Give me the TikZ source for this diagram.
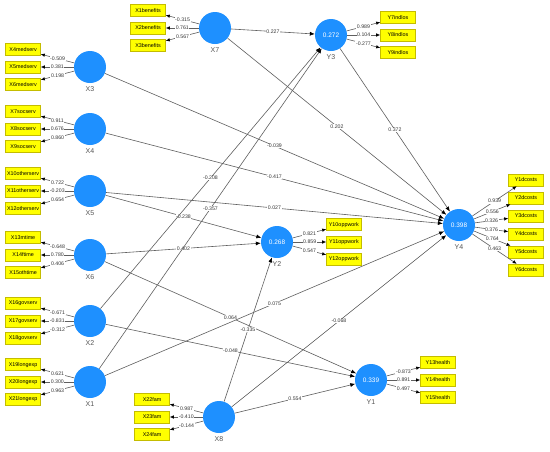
\documentclass[tikz,border=0pt]{standalone}
\usepackage{fontspec}
\setmainfont{Liberation Sans}
\usepackage{xcolor}
\usepackage{tikz}
\usetikzlibrary{arrows.meta,positioning}

\definecolor{plsblue}{RGB}{30,144,255}
\definecolor{plsyellow}{RGB}{255,255,0}
\definecolor{boxline}{RGB}{196,188,0}
\definecolor{linegray}{RGB}{95,95,95}
\definecolor{coefgray}{RGB}{55,55,55}
\definecolor{namegray}{RGB}{85,85,85}

\begin{document}
\begin{tikzpicture}[
    x=1pt, y=-1pt,
    latent/.style={circle, fill=plsblue, minimum size=32pt, inner sep=0pt, text=white,
      font=\fontsize{6.5}{7}\selectfont, label distance=7pt},
    lname/.style={text=namegray, font=\fontsize{7}{8}\selectfont},
    ind/.style={draw=boxline, line width=0.4pt, fill=plsyellow, minimum width=35pt, minimum height=12pt,
      inner sep=0pt, font=\fontsize{5.4}{6}\selectfont},
    load/.style={draw=linegray, line width=0.6pt, -{Latex[length=4pt,width=3.5pt,color=black]}},
    struct/.style={draw=linegray, line width=0.6pt, -{Latex[length=5pt,width=4pt,color=black]}},
    coef/.style={fill=white, inner sep=0.6pt, text=coefgray, font=\fontsize{5.2}{6}\selectfont}
]
\useasboundingbox[fill=white] (0,0) rectangle (550,451);

% latent variables
\node[latent, label={[lname]below:X7}] (X7) at (215,28) {};
\node[latent, label={[lname]below:X3}] (X3) at (90,67) {};
\node[latent, label={[lname]below:X4}] (X4) at (90,129) {};
\node[latent, label={[lname]below:X5}] (X5) at (90,191) {};
\node[latent, label={[lname]below:X6}] (X6) at (90,255) {};
\node[latent, label={[lname]below:X2}] (X2) at (90,321) {};
\node[latent, label={[lname]below:X1}] (X1) at (90,382) {};
\node[latent, label={[lname]below:X8}] (X8) at (219,417) {};
\node[latent, label={[lname]below:Y3}] (Y3) at (331,35) {0.272};
\node[latent, label={[lname]below:Y2}] (Y2) at (277,242) {0.268};
\node[latent, label={[lname]below:Y4}] (Y4) at (459,225) {0.398};
\node[latent, label={[lname]below:Y1}] (Y1) at (371,380) {0.339};

% indicators
\node[ind, left=33pt of X7] (x2ben) {X2benefits};
\node[ind, above=5pt of x2ben] (x1ben) {X1benefits};
\node[ind, below=5pt of x2ben] (x3ben) {X3benefits};

\node[ind, left=33pt of X3] (x5med) {X5medserv};
\node[ind, above=5pt of x5med] (x4med) {X4medserv};
\node[ind, below=5pt of x5med] (x6med) {X6medserv};

\node[ind, left=33pt of X4] (x8soc) {X8socserv};
\node[ind, above=5pt of x8soc] (x7soc) {X7socserv};
\node[ind, below=5pt of x8soc] (x9soc) {X9socserv};

\node[ind, left=33pt of X5] (x11oth) {X11otherserv};
\node[ind, above=5pt of x11oth] (x10oth) {X10otherserv};
\node[ind, below=5pt of x11oth] (x12oth) {X12otherserv};

\node[ind, left=33pt of X6] (x14time) {X14ftime};
\node[ind, above=5pt of x14time] (x13time) {X13mtime};
\node[ind, below=5pt of x14time] (x15time) {X15othtime};

\node[ind, left=33pt of X2] (x17gov) {X17govserv};
\node[ind, above=5pt of x17gov] (x16gov) {X16govserv};
\node[ind, below=5pt of x17gov] (x18gov) {X18govserv};

\node[ind, left=33pt of X1] (x20exp) {X20longexp};
\node[ind, above=5pt of x20exp] (x19exp) {X19longexp};
\node[ind, below=5pt of x20exp] (x21exp) {X21longexp};

\node[ind, left=33pt of X8] (x23fam) {X23fam};
\node[ind, above=5pt of x23fam] (x22fam) {X22fam};
\node[ind, below=5pt of x23fam] (x24fam) {X24fam};

\node[ind, right=33pt of Y3] (y8ind) {Y8indlos};
\node[ind, above=5pt of y8ind] (y7ind) {Y7indlos};
\node[ind, below=5pt of y8ind] (y9ind) {Y9indlos};

\node[ind, right=33pt of Y2] (y11opp) {Y11oppwork};
\node[ind, above=5pt of y11opp] (y10opp) {Y10oppwork};
\node[ind, below=5pt of y11opp] (y12opp) {Y12oppwork};

\node[ind, right=33pt of Y1] (y14hea) {Y14health};
\node[ind, above=5pt of y14hea] (y13hea) {Y13health};
\node[ind, below=5pt of y14hea] (y15hea) {Y15health};

\node[ind, right=33pt of Y4, yshift=9pt] (y3dc) {Y3dcosts};
\node[ind, above=5.6pt of y3dc] (y2dc) {Y2dcosts};
\node[ind, above=5.6pt of y2dc] (y1dc) {Y1dcosts};
\node[ind, below=5.6pt of y3dc] (y4dc) {Y4dcosts};
\node[ind, below=5.6pt of y4dc] (y5dc) {Y5dcosts};
\node[ind, below=5.6pt of y5dc] (y6dc) {Y6dcosts};

% outer loadings
\draw[load] (X7) -- node[coef]{-0.315} (x1ben);
\draw[load] (X7) -- node[coef]{0.761} (x2ben);
\draw[load] (X7) -- node[coef]{0.567} (x3ben);
\draw[load] (X3) -- node[coef]{-0.509} (x4med);
\draw[load] (X3) -- node[coef]{0.381} (x5med);
\draw[load] (X3) -- node[coef]{0.198} (x6med);
\draw[load] (X4) -- node[coef]{0.911} (x7soc);
\draw[load] (X4) -- node[coef]{0.676} (x8soc);
\draw[load] (X4) -- node[coef]{0.860} (x9soc);
\draw[load] (X5) -- node[coef]{0.722} (x10oth);
\draw[load] (X5) -- node[coef]{-0.203} (x11oth);
\draw[load] (X5) -- node[coef]{0.654} (x12oth);
\draw[load] (X6) -- node[coef]{-0.648} (x13time);
\draw[load] (X6) -- node[coef]{0.780} (x14time);
\draw[load] (X6) -- node[coef]{0.406} (x15time);
\draw[load] (X2) -- node[coef]{-0.671} (x16gov);
\draw[load] (X2) -- node[coef]{-0.831} (x17gov);
\draw[load] (X2) -- node[coef]{-0.312} (x18gov);
\draw[load] (X1) -- node[coef]{0.621} (x19exp);
\draw[load] (X1) -- node[coef]{0.300} (x20exp);
\draw[load] (X1) -- node[coef]{0.963} (x21exp);
\draw[load] (X8) -- node[coef]{0.987} (x22fam);
\draw[load] (X8) -- node[coef]{-0.410} (x23fam);
\draw[load] (X8) -- node[coef]{-0.144} (x24fam);
\draw[load] (Y3) -- node[coef]{0.989} (y7ind);
\draw[load] (Y3) -- node[coef]{0.104} (y8ind);
\draw[load] (Y3) -- node[coef]{-0.277} (y9ind);
\draw[load] (Y2) -- node[coef]{0.821} (y10opp);
\draw[load] (Y2) -- node[coef]{0.859} (y11opp);
\draw[load] (Y2) -- node[coef]{0.547} (y12opp);
\draw[load] (Y1) -- node[coef]{-0.873} (y13hea);
\draw[load] (Y1) -- node[coef]{0.891} (y14hea);
\draw[load] (Y1) -- node[coef]{0.497} (y15hea);
\draw[load] (Y4) -- node[coef]{0.939} (y1dc);
\draw[load] (Y4) -- node[coef]{0.556} (y2dc);
\draw[load] (Y4) -- node[coef]{0.326} (y3dc);
\draw[load] (Y4) -- node[coef]{0.376} (y4dc);
\draw[load] (Y4) -- node[coef]{0.764} (y5dc);
\draw[load] (Y4) -- node[coef]{0.463} (y6dc);

% inner model
\draw[struct] (X7) -- node[coef]{0.227} (Y3);
\draw[struct] (X7) -- node[coef]{0.202} (Y4);
\draw[struct] (Y3) -- node[coef]{0.372} (Y4);
\draw[struct] (X3) -- node[coef]{-0.039} (Y4);
\draw[struct] (X4) -- node[coef]{-0.417} (Y4);
\draw[struct] (X5) -- node[coef]{0.027} (Y4);
\draw[struct] (X5) -- node[coef]{-0.238} (Y2);
\draw[struct] (X6) -- node[coef]{0.402} (Y2);
\draw[struct] (X6) -- node[coef]{0.064} (Y1);
\draw[struct] (X2) -- node[coef]{-0.208} (Y3);
\draw[struct] (X2) -- node[coef]{-0.048} (Y1);
\draw[struct] (X1) -- node[coef]{-0.357} (Y3);
\draw[struct] (X1) -- node[coef]{0.075} (Y4);
\draw[struct] (X8) -- node[coef]{-0.335} (Y2);
\draw[struct] (X8) -- node[coef]{-0.068} (Y4);
\draw[struct] (X8) -- node[coef]{0.554} (Y1);
\end{tikzpicture}
\end{document}
